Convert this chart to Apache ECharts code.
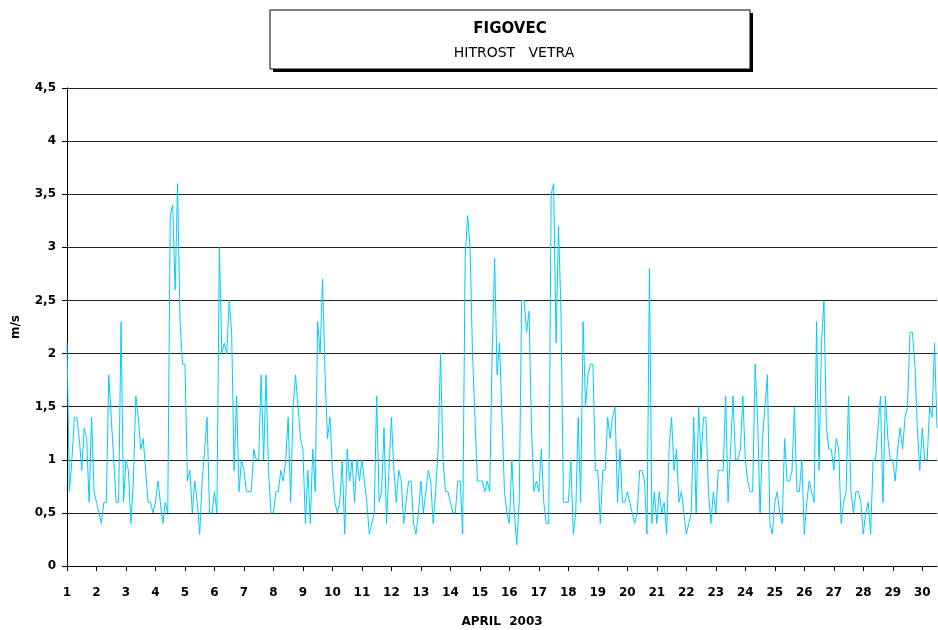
<!DOCTYPE html>
<html>
<head>
<meta charset="utf-8">
<script src="https://cdn.jsdelivr.net/npm/echarts@6/dist/echarts.min.js"></script>
<style>
  html, body { margin: 0; padding: 0; background: #fff; }
  #chart { width: 938px; height: 630px; }
</style>
</head>
<body>
<div id="chart"></div>
<script>
// Wind speed at Figovec, April 2003, sampled every 2 hours (12 values per day)
var STEPS_PER_DAY = 12;
var FIRST_DAY = 1;

var hitrost = [
  // 1. april
  2.1, 0.7, 1.0, 1.4, 1.4, 1.2, 0.9, 1.3, 1.2, 0.6, 1.4, 0.7,
  // 2.
  0.6, 0.5, 0.4, 0.6, 0.6, 1.8, 1.4, 1.0, 0.6, 0.6, 2.3, 0.6,
  // 3.
  1.0, 0.9, 0.4, 0.8, 1.6, 1.4, 1.1, 1.2, 0.9, 0.6, 0.6, 0.5,
  // 4.
  0.6, 0.8, 0.6, 0.4, 0.6, 0.5, 3.3, 3.4, 2.6, 3.6, 2.3, 1.9,
  // 5.
  1.9, 0.8, 0.9, 0.5, 0.8, 0.6, 0.3, 0.8, 1.1, 1.4, 0.5, 0.5,
  // 6.
  0.7, 0.5, 3.0, 2.0, 2.1, 2.0, 2.5, 2.2, 0.9, 1.6, 0.7, 1.0,
  // 7.
  0.9, 0.7, 0.7, 0.7, 1.1, 1.0, 1.0, 1.8, 1.0, 1.8, 0.9, 0.5,
  // 8.
  0.5, 0.7, 0.7, 0.9, 0.8, 1.0, 1.4, 0.6, 1.5, 1.8, 1.5, 1.2,
  // 9.
  1.1, 0.4, 0.9, 0.4, 1.1, 0.7, 2.3, 2.0, 2.7, 1.8, 1.2, 1.4,
  // 10.
  0.9, 0.6, 0.5, 0.6, 1.0, 0.3, 1.1, 0.8, 1.0, 0.6, 1.0, 0.8,
  // 11.
  1.0, 0.8, 0.6, 0.3, 0.4, 0.5, 1.6, 0.6, 0.7, 1.3, 0.4, 0.9,
  // 12.
  1.4, 0.9, 0.6, 0.9, 0.8, 0.4, 0.6, 0.8, 0.8, 0.4, 0.3, 0.5,
  // 13.
  0.8, 0.5, 0.7, 0.9, 0.8, 0.4, 0.7, 1.1, 2.0, 1.0, 0.7, 0.7,
  // 14.
  0.6, 0.5, 0.5, 0.8, 0.8, 0.3, 2.9, 3.3, 3.0, 2.0, 1.4, 0.8,
  // 15.
  0.8, 0.8, 0.7, 0.8, 0.7, 2.0, 2.9, 1.8, 2.1, 1.4, 0.7, 0.5,
  // 16.
  0.4, 1.0, 0.5, 0.2, 0.6, 2.5, 2.5, 2.2, 2.4, 1.3, 0.7, 0.8,
  // 17.
  0.7, 1.1, 0.6, 0.4, 0.4, 3.5, 3.6, 2.1, 3.2, 2.4, 0.6, 0.6,
  // 18.
  0.6, 1.0, 0.3, 0.5, 1.4, 0.6, 2.3, 1.5, 1.8, 1.9, 1.9, 0.9,
  // 19.
  0.9, 0.4, 0.9, 0.9, 1.4, 1.2, 1.4, 1.5, 0.6, 1.1, 0.6, 0.6,
  // 20.
  0.7, 0.6, 0.5, 0.4, 0.5, 0.9, 0.9, 0.8, 0.3, 2.8, 0.4, 0.7,
  // 21.
  0.4, 0.7, 0.5, 0.6, 0.3, 1.1, 1.4, 0.9, 1.1, 0.6, 0.7, 0.5,
  // 22.
  0.3, 0.4, 0.5, 1.4, 0.5, 1.5, 1.0, 1.4, 1.4, 0.7, 0.4, 0.7,
  // 23.
  0.5, 0.9, 0.9, 0.9, 1.6, 0.6, 1.1, 1.6, 1.0, 1.0, 1.1, 1.6,
  // 24.
  1.0, 0.8, 0.7, 0.7, 1.9, 1.4, 0.5, 1.2, 1.5, 1.8, 0.4, 0.3,
  // 25.
  0.6, 0.7, 0.5, 0.4, 1.2, 0.8, 0.8, 0.9, 1.5, 0.7, 0.7, 1.0,
  // 26.
  0.3, 0.6, 0.8, 0.7, 0.6, 2.3, 0.9, 2.1, 2.5, 1.3, 1.1, 1.1,
  // 27.
  0.9, 1.2, 1.1, 0.4, 0.6, 0.7, 1.6, 0.7, 0.5, 0.7, 0.7, 0.6,
  // 28.
  0.3, 0.5, 0.6, 0.3, 1.0, 1.0, 1.3, 1.6, 0.6, 1.6, 1.2, 1.0,
  // 29.
  1.0, 0.8, 1.1, 1.3, 1.1, 1.4, 1.5, 2.2, 2.2, 1.9, 1.3, 0.9,
  // 30.
  1.3, 1.0, 1.0, 1.5, 1.4, 2.1, 1.3
];

// Day labels along the bottom axis
var dayTicks = [];
for (var d = 1; d <= 30; d++) dayTicks.push(d);

// Value-axis range and step (m/s)
var yMin = 0, yMax = 4.5, yStep = 0.5;
var xMin = 1, xMax = 30.5;

var seriesData = hitrost.map(function (v, i) {
  return [FIRST_DAY + i / STEPS_PER_DAY, v];
});

var labelFont = {
  fontFamily: 'DejaVu Sans',
  fontWeight: 'bold',
  fontSize: 12,
  color: '#000'
};

var chart = echarts.init(document.getElementById('chart'), null, { renderer: 'canvas' });

chart.setOption({
  backgroundColor: '#fff',
  animation: false,
  grid: { left: 67, right: 1, top: 88, bottom: 64, containLabel: false, outerBoundsMode: 'none' },
  graphic: [
    // title box with drop shadow
    { type: 'rect', shape: { x: 273, y: 13, width: 480, height: 59 }, style: { fill: '#000' }, z: 10 },
    { type: 'rect', shape: { x: 270, y: 10, width: 480, height: 59 }, style: { fill: '#fff', stroke: '#000', lineWidth: 1 }, z: 11 },
    { type: 'text', x: 510, y: 29, z: 12,
      style: { text: 'FIGOVEC', fontFamily: 'DejaVu Sans', fontWeight: 'bold', fontSize: 15, fill: '#000', align: 'center', verticalAlign: 'middle' } },
    { type: 'text', x: 514, y: 53, z: 12,
      style: { text: 'HITROST   VETRA', fontFamily: 'DejaVu Sans', fontSize: 14, fill: '#000', align: 'center', verticalAlign: 'middle' } }
  ],
  xAxis: {
    type: 'value',
    min: xMin,
    max: xMax,
    interval: 1,
    name: 'APRIL  2003',
    nameLocation: 'middle',
    nameGap: 50,
    nameTextStyle: labelFont,
    axisLine: { show: true, onZero: false, lineStyle: { color: '#000', width: 1 } },
    axisTick: { show: true, length: 5, inside: false, customValues: dayTicks, lineStyle: { color: '#000' } },
    axisLabel: Object.assign({ margin: 21, customValues: dayTicks }, labelFont),
    splitLine: { show: false }
  },
  yAxis: {
    type: 'value',
    min: yMin,
    max: yMax,
    interval: yStep,
    name: 'm/s',
    nameLocation: 'middle',
    nameGap: 45,
    nameRotate: 90,
    nameTextStyle: labelFont,
    axisLine: { show: true, lineStyle: { color: '#000', width: 1 } },
    axisTick: { show: true, length: 5, lineStyle: { color: '#000' } },
    axisLabel: Object.assign({
      margin: 11,
      formatter: function (v) { return String(v).replace('.', ','); }
    }, labelFont),
    splitLine: { show: true, lineStyle: { color: '#222', width: 1 } }
  },
  series: [{
    type: 'line',
    data: seriesData,
    showSymbol: false,
    symbol: 'none',
    lineStyle: { color: '#00CCFF', width: 1 },
    emphasis: { disabled: true }
  }]
});
</script>
</body>
</html>
